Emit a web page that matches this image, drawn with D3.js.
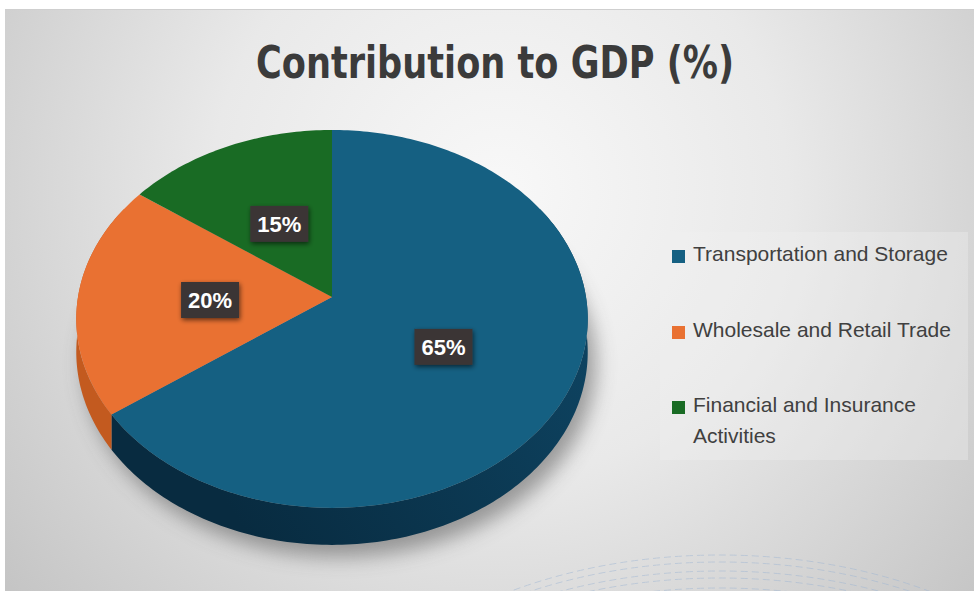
<!DOCTYPE html>
<html>
<head>
<meta charset="utf-8">
<script src="https://cdn.jsdelivr.net/npm/d3@7/dist/d3.min.js"></script>
<style>
  html, body { margin: 0; padding: 0; background: #ffffff; }
  svg { display: block; }
</style>
</head>
<body>
<svg id="chart" width="974" height="591"></svg>
<script>
// Chart data
const title = "Contribution to GDP (%)";
const categories = ["Transportation and Storage", "Wholesale and Retail Trade", "Financial and Insurance Activities"];
const legendLines = [["Transportation and Storage"], ["Wholesale and Retail Trade"], ["Financial and Insurance", "Activities"]];
const values = [65, 20, 15];
const topColors = ["#156082", "#E97132", "#196B24"];
const sideColorsLight = ["#0e4462", "#c35a1f", "#124d1a"];
const sideColorsDark = ["#082b40", "#a84a16", "#0d3a13"];

const W = 974, H = 591;
const svg = d3.select("#chart");
const defs = svg.append("defs");

// Background panel
const bg = defs.append("radialGradient").attr("id", "bgGrad")
  .attr("gradientUnits", "userSpaceOnUse").attr("cx", 500).attr("cy", 190).attr("r", 640);
bg.append("stop").attr("offset", 0).attr("stop-color", "#f8f8f8");
bg.append("stop").attr("offset", 0.45).attr("stop-color", "#e9e9e9");
bg.append("stop").attr("offset", 1).attr("stop-color", "#c4c4c4");
svg.append("rect").attr("x", 5).attr("y", 9).attr("width", W - 5).attr("height", H - 9).attr("fill", "url(#bgGrad)");
svg.append("line").attr("x1", 5).attr("x2", W).attr("y1", 9.5).attr("y2", 9.5)
  .attr("stroke", "#cfcfcf").attr("stroke-width", 1);

// Faint dashed arcs near the bottom edge
const arcOffsets = [0, 7, 16, 23, 33];
const deco = svg.append("g").attr("fill", "none").attr("stroke", "#9fb6d3")
  .attr("stroke-width", 1).attr("stroke-dasharray", "7 4").attr("opacity", 0.5);
arcOffsets.forEach(d => {
  deco.append("ellipse").attr("cx", 720).attr("cy", 800 + d).attr("rx", 400).attr("ry", 245);
});

// Title
svg.append("text")
  .attr("x", 495).attr("y", 78)
  .attr("text-anchor", "middle")
  .attr("font-family", "'Liberation Sans Narrow', 'DejaVu Sans Condensed', 'Liberation Sans', sans-serif")
  .attr("font-stretch", "condensed")
  .attr("font-weight", "bold")
  .attr("font-size", 44)
  .attr("fill", "#3b3b3b")
  .attr("textLength", 478)
  .attr("lengthAdjust", "spacingAndGlyphs")
  .text(title);

// 3D pie projection: disk of radius R viewed from above with perspective
const cx = 332, cy = 297, R = 254;
const sinE = 0.734, cosE = 0.679, D = 1487, depth = 32.7;
function project(theta, r, drop) {
  const u = r * Math.sin(theta);
  const v = -r * Math.cos(theta);
  const p = D / (D - v * cosE);
  return [cx + u * p, cy + (v * sinE + drop) * p];
}
function arcPoints(a0, a1, r, drop) {
  const n = Math.max(2, Math.ceil(Math.abs(a1 - a0) / (Math.PI / 180)));
  return d3.range(n + 1).map(i => project(a0 + (a1 - a0) * i / n, r, drop));
}
const line = d3.line();

const pie = d3.pie().sort(null).value(d => d).startAngle(0).endAngle(2 * Math.PI);
const slices = pie(values);

// Soft shadow under the pie
const shadowFilter = defs.append("filter").attr("id", "pieShadow")
  .attr("x", "-20%").attr("y", "-20%").attr("width", "140%").attr("height", "140%");
shadowFilter.append("feGaussianBlur").attr("stdDeviation", 10);
const outline = arcPoints(0, 2 * Math.PI, R, depth);
svg.append("path")
  .attr("d", line(outline) + "Z")
  .attr("transform", "translate(8,12)")
  .attr("fill", "#4a4a4a").attr("opacity", 0.5)
  .attr("filter", "url(#pieShadow)");

// Side walls (front half only)
const visA0 = Math.PI / 3, visA1 = 5 * Math.PI / 3;
const sideG = svg.append("g");
slices.forEach((s, i) => {
  const a0 = Math.max(s.startAngle, visA0), a1 = Math.min(s.endAngle, visA1);
  if (a1 <= a0) return;
  const grad = defs.append("linearGradient").attr("id", "side" + i)
    .attr("gradientUnits", "userSpaceOnUse").attr("x1", 600).attr("y1", 320).attr("x2", 250).attr("y2", 540);
  grad.append("stop").attr("offset", 0).attr("stop-color", sideColorsLight[i]);
  grad.append("stop").attr("offset", 1).attr("stop-color", sideColorsDark[i]);
  const topPts = arcPoints(a0, a1, R, 0);
  const botPts = arcPoints(a1, a0, R, depth);
  sideG.append("path").attr("d", line(topPts.concat(botPts)) + "Z")
    .attr("fill", i === 0 ? "url(#side0)" : sideColorsLight[i]);
});

// Top faces
const topG = svg.append("g");
slices.forEach((s, i) => {
  const pts = [[cx, cy]].concat(arcPoints(s.startAngle, s.endAngle, R, 0));
  topG.append("path").attr("d", line(pts) + "Z").attr("fill", topColors[i]);
});

// Data labels
const labelShadow = defs.append("filter").attr("id", "labelShadow")
  .attr("x", "-30%").attr("y", "-30%").attr("width", "160%").attr("height", "160%");
labelShadow.append("feGaussianBlur").attr("in", "SourceAlpha").attr("stdDeviation", 2.5).attr("result", "b");
labelShadow.append("feOffset").attr("in", "b").attr("dx", 1).attr("dy", 2).attr("result", "o");
labelShadow.append("feComponentTransfer").attr("in", "o").attr("result", "s")
  .append("feFuncA").attr("type", "linear").attr("slope", 0.6);
const lm = labelShadow.append("feMerge");
lm.append("feMergeNode").attr("in", "s");
lm.append("feMergeNode").attr("in", "SourceGraphic");

const labelG = svg.append("g");
slices.forEach((s, i) => {
  const mid = (s.startAngle + s.endAngle) / 2;
  const [lx, ly] = project(mid, R * 0.48, i === 0 ? 8 : 3);
  const g = labelG.append("g").attr("transform", `translate(${lx},${ly})`);
  g.append("rect").attr("x", -29).attr("y", -18).attr("width", 58).attr("height", 36)
    .attr("fill", "#3a3636").attr("filter", "url(#labelShadow)");
  g.append("text").attr("text-anchor", "middle").attr("dy", "0.36em")
    .attr("font-family", "'Liberation Sans', Arial, sans-serif").attr("font-weight", "bold")
    .attr("font-size", 22).attr("fill", "#ffffff")
    .text(values[i] + "%");
});

// Legend
const legend = svg.append("g");
legend.append("rect").attr("x", 660).attr("y", 232).attr("width", 308).attr("height", 228)
  .attr("fill", "#f2f2f2").attr("opacity", 0.35);
const legendY = [261, 337, 412];
categories.forEach((c, i) => {
  legend.append("rect").attr("x", 672).attr("y", legendY[i] - 11).attr("width", 13).attr("height", 13)
    .attr("fill", topColors[i]);
  const t = legend.append("text").attr("x", 693).attr("y", legendY[i])
    .attr("font-family", "'Liberation Sans', Arial, sans-serif").attr("font-size", 21)
    .attr("fill", "#404040");
  legendLines[i].forEach((ln, j) => {
    t.append("tspan").attr("x", 693).attr("dy", j === 0 ? 0 : 31).text(ln);
  });
});
</script>
</body>
</html>
